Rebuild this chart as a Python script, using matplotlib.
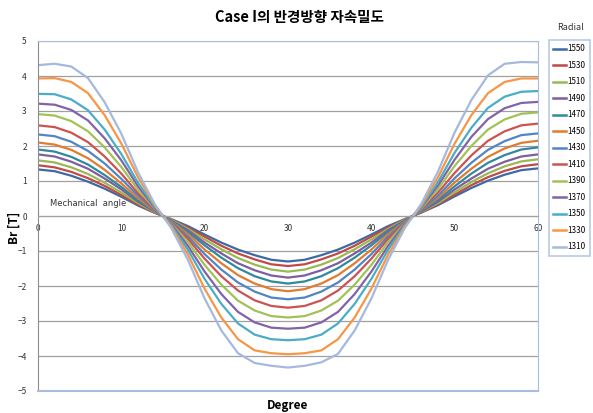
import matplotlib
matplotlib.use("Agg")
import matplotlib.pyplot as plt
from matplotlib.lines import Line2D

plt.rcParams['font.family'] = ['Noto Sans CJK KR', 'DejaVu Sans']

degrees = list(range(0, 61, 2))

radial_labels = ['1550', '1530', '1510', '1490', '1470', '1450', '1430',
                 '1410', '1390', '1370', '1350', '1330', '1310']

br_1550 = [1.33, 1.28, 1.15, 0.98, 0.78, 0.55, 0.30, 0.09,
           -0.09, -0.29, -0.53, -0.76, -0.96, -1.12, -1.25, -1.30,
           -1.25, -1.12, -0.96, -0.76, -0.53, -0.29, -0.09,
           0.10, 0.31, 0.56, 0.80, 1.01, 1.18, 1.31, 1.36]
br_1530 = [1.45, 1.39, 1.26, 1.08, 0.86, 0.60, 0.33, 0.10,
           -0.10, -0.33, -0.59, -0.85, -1.07, -1.24, -1.38, -1.43,
           -1.38, -1.24, -1.07, -0.85, -0.59, -0.33, -0.10,
           0.10, 0.34, 0.61, 0.88, 1.11, 1.29, 1.42, 1.48]
br_1510 = [1.59, 1.53, 1.39, 1.20, 0.95, 0.67, 0.37, 0.11,
           -0.11, -0.37, -0.67, -0.95, -1.20, -1.39, -1.53, -1.59,
           -1.53, -1.39, -1.20, -0.95, -0.67, -0.37, -0.11,
           0.12, 0.37, 0.68, 0.97, 1.22, 1.42, 1.56, 1.62]
br_1490 = [1.76, 1.70, 1.55, 1.35, 1.07, 0.76, 0.41, 0.13,
           -0.13, -0.41, -0.76, -1.07, -1.35, -1.55, -1.70, -1.76,
           -1.70, -1.55, -1.35, -1.07, -0.76, -0.41, -0.13,
           0.13, 0.41, 0.76, 1.07, 1.35, 1.55, 1.70, 1.76]
br_1470 = [1.90, 1.84, 1.69, 1.47, 1.17, 0.83, 0.45, 0.14,
           -0.14, -0.46, -0.84, -1.19, -1.49, -1.72, -1.87, -1.93,
           -1.87, -1.72, -1.49, -1.19, -0.84, -0.46, -0.14,
           0.14, 0.46, 0.85, 1.21, 1.52, 1.74, 1.90, 1.96]
br_1450 = [2.10, 2.04, 1.89, 1.65, 1.32, 0.93, 0.51, 0.15,
           -0.16, -0.52, -0.96, -1.35, -1.69, -1.93, -2.09, -2.15,
           -2.09, -1.93, -1.69, -1.35, -0.96, -0.52, -0.16,
           0.16, 0.52, 0.96, 1.35, 1.69, 1.93, 2.09, 2.15]
br_1430 = [2.33, 2.28, 2.12, 1.86, 1.50, 1.06, 0.58, 0.17,
           -0.17, -0.59, -1.09, -1.53, -1.90, -2.16, -2.33, -2.38,
           -2.33, -2.16, -1.90, -1.53, -1.09, -0.59, -0.17,
           0.17, 0.58, 1.08, 1.52, 1.89, 2.14, 2.31, 2.36]
br_1410 = [2.59, 2.54, 2.38, 2.11, 1.70, 1.21, 0.65, 0.19,
           -0.19, -0.66, -1.22, -1.72, -2.13, -2.41, -2.57, -2.62,
           -2.57, -2.41, -2.13, -1.72, -1.22, -0.66, -0.19,
           0.20, 0.67, 1.23, 1.73, 2.15, 2.42, 2.59, 2.64]
br_1390 = [2.91, 2.87, 2.71, 2.42, 1.96, 1.40, 0.75, 0.22,
           -0.22, -0.75, -1.40, -1.96, -2.42, -2.70, -2.86, -2.90,
           -2.86, -2.70, -2.42, -1.96, -1.40, -0.75, -0.22,
           0.22, 0.77, 1.43, 2.00, 2.47, 2.76, 2.92, 2.96]
br_1370 = [3.21, 3.18, 3.03, 2.73, 2.22, 1.59, 0.85, 0.24,
           -0.24, -0.86, -1.59, -2.23, -2.74, -3.04, -3.19, -3.22,
           -3.19, -3.04, -2.74, -2.23, -1.59, -0.86, -0.24,
           0.25, 0.87, 1.61, 2.26, 2.77, 3.08, 3.23, 3.26]
br_1350 = [3.49, 3.48, 3.33, 3.02, 2.47, 1.77, 0.95, 0.27,
           -0.27, -0.97, -1.80, -2.51, -3.07, -3.39, -3.52, -3.55,
           -3.52, -3.39, -3.07, -2.51, -1.80, -0.97, -0.27,
           0.27, 0.97, 1.81, 2.52, 3.09, 3.41, 3.55, 3.57]
br_1330 = [3.93, 3.94, 3.83, 3.51, 2.88, 2.07, 1.11, 0.31,
           -0.31, -1.11, -2.08, -2.90, -3.52, -3.84, -3.92, -3.95,
           -3.92, -3.84, -3.52, -2.90, -2.08, -1.11, -0.31,
           0.31, 1.11, 2.07, 2.88, 3.51, 3.83, 3.93, 3.93]
br_1310 = [4.31, 4.35, 4.27, 3.94, 3.25, 2.35, 1.25, 0.34,
           -0.35, -1.26, -2.36, -3.27, -3.92, -4.20, -4.28, -4.33,
           -4.28, -4.18, -3.94, -3.27, -2.36, -1.26, -0.35,
           0.35, 1.27, 2.39, 3.31, 4.02, 4.35, 4.40, 4.39]

series = [br_1550, br_1530, br_1510, br_1490, br_1470, br_1450, br_1430,
          br_1410, br_1390, br_1370, br_1350, br_1330, br_1310]

colors = ['#3D6AA5', '#BE4B48', '#98B954', '#7D5FA0', '#31889F', '#E27B30',
          '#4F86C6', '#CB5350', '#A2C157', '#8263A6', '#4AADC8', '#F79646',
          '#A5B9DD']

fig = plt.figure(figsize=(5.93, 4.13), dpi=100)
ax = fig.add_axes([38/593, 1 - 391/413, 500/593, 350/413])

for vals, c, lab in zip(series, colors, radial_labels):
    ax.plot(degrees, vals, color=c, lw=1.6, label=lab,
            solid_joinstyle='round')

ax.set_xlim(0, 60)
ax.set_ylim(-5, 5)
ax.set_yticks(range(-5, 6))
ax.set_xticks(range(0, 61, 10))
ax.yaxis.grid(True, color='#A0A0A0', lw=0.9)
ax.set_axisbelow(True)

border = '#A7BEDE'
ax.spines['bottom'].set_position(('data', 0))
ax.spines['bottom'].set_color('#A0A0A0')
ax.spines['left'].set_color('#8C8C8C')
ax.spines['top'].set_color(border)
ax.spines['right'].set_color(border)
ax.axhline(-5, color=border, lw=1.5, clip_on=False, zorder=3)

ax.tick_params(axis='both', length=0, labelsize=6, colors='#333333')
ax.tick_params(axis='x', pad=6)
ax.tick_params(axis='y', pad=8)

ax.text(1.5, 0.28, 'Mechanical  angle', fontsize=6, color='#333333',
        family=['DejaVu Sans'])

fig.text(0.505, 1 - 17/413, 'Case I의 반경방향 자속밀도', ha='center', va='center',
         fontsize=10.5, fontweight='bold')
fig.text(14/593, 1 - 228/413, 'Br [T]', rotation=90, ha='center', va='center',
         fontsize=8.5, fontweight='bold')
fig.text(288/593, 1 - 405/413, 'Degree', ha='center', va='center',
         fontsize=8.5, fontweight='bold')
fig.text(571/593, 1 - 28/413, 'Radial', ha='center', va='center',
         fontsize=6.5, color='#333333')

handles = [Line2D([0], [0], color=c, lw=1.8) for c in colors]
leg = fig.legend(handles, radial_labels, loc='upper left',
                 bbox_to_anchor=(549/593, 1 - 40/413), fontsize=5.8,
                 frameon=True, fancybox=False, handlelength=1.6,
                 handletextpad=0.15, labelspacing=0.93, borderpad=0.55,
                 borderaxespad=0)
leg.get_frame().set_edgecolor(border)
leg.get_frame().set_linewidth(1.2)

fig.savefig('out.png', dpi=100)
